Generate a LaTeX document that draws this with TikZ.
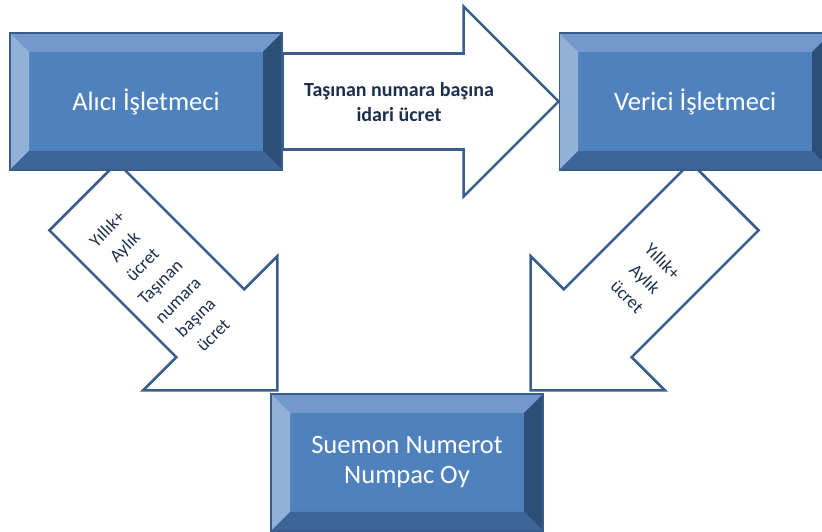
\documentclass[tikz,border=0pt]{standalone}
\usepackage{fontspec}
\setmainfont{Carlito}
\usepackage{xcolor}
\usetikzlibrary{calc,positioning,backgrounds}
\definecolor{boxface}{HTML}{4F81BD}
\definecolor{boxline}{HTML}{385D8A}
\definecolor{bevtop}{HTML}{7399CC}
\definecolor{bevleft}{HTML}{93B1D8}
\definecolor{bevright}{HTML}{2D4E77}
\definecolor{bevbottom}{HTML}{3D6598}
\definecolor{arrowline}{HTML}{3A5E8C}
\definecolor{navytext}{HTML}{1C2F4D}
\tikzstyle{bevelbox} = [draw=boxline, line width=1.2pt, fill=boxface,
    minimum width=272pt, minimum height=137pt, inner sep=0pt,
    text=white, font=\fontsize{26.5}{30}\selectfont, align=center,
    path picture={
        \coordinate (bnw) at (path picture bounding box.north west);
        \coordinate (bne) at (path picture bounding box.north east);
        \coordinate (bsw) at (path picture bounding box.south west);
        \coordinate (bse) at (path picture bounding box.south east);
        \fill[bevtop] (bnw) -- (bne) -- ($(bne)+(-19,-19)$) -- ($(bnw)+(19,-19)$) -- cycle;
        \fill[bevleft] (bnw) -- (bsw) -- ($(bsw)+(19,19)$) -- ($(bnw)+(19,-19)$) -- cycle;
        \fill[bevright] (bne) -- (bse) -- ($(bse)+(-19,19)$) -- ($(bne)+(-19,-19)$) -- cycle;
        \fill[bevbottom] (bsw) -- (bse) -- ($(bse)+(-19,19)$) -- ($(bsw)+(19,19)$) -- cycle;
    }]
\tikzstyle{feeline} = [draw=arrowline, fill=white, line width=2.6pt, line join=miter]
\tikzstyle{feetext} = [text=navytext, font=\fontsize{20}{25}\selectfont\bfseries, align=center]
\tikzstyle{sidetext} = [text=navytext, font=\fontsize{18}{25}\selectfont, align=center]
% block arrow: #1 = start of shaft, #2 = tip
\newcommand{\feearrow}[2]{%
    \coordinate (hb) at ($(#2)!95pt!(#1)$);
    \draw[feeline] ($(#1)!48pt!90:(#2)$) -- ($(hb)!48pt!90:(#2)$) -- ($(hb)!95pt!90:(#2)$)
        -- (#2) -- ($(hb)!95pt!-90:(#2)$) -- ($(hb)!48pt!-90:(#2)$) -- ($(#1)!48pt!-90:(#2)$) -- cycle;
}

\begin{document}
\begin{tikzpicture}[x=1pt, y=1pt]
    \useasboundingbox (0,0) rectangle (822,532);
    \node [bevelbox] (alici) at (146,430.5) {Alıcı İşletmeci};
    \node [bevelbox, right=276pt of alici] (verici) {Verici İşletmeci};
    \node [bevelbox] (suemon) at (407,69.5) {Suemon Numerot\\Numpac Oy};
    \coordinate (alicitip) at ([xshift=7pt,yshift=3pt]suemon.north west);
    \coordinate (vericitip) at ([xshift=-13pt,yshift=3pt]suemon.north east);
    \coordinate (alicistart) at ($(alicitip)+(-194,194)$);
    \coordinate (vericistart) at ($(vericitip)+(194,194)$);
    \begin{pgfonlayer}{background}
        \feearrow{alici.east}{verici.west}
        \feearrow{alicistart}{alicitip}
        \feearrow{vericistart}{vericitip}
    \end{pgfonlayer}
    \node [feetext] (idaritext) at (399,430) {Taşınan numara başına\\idari ücret};
    \node [sidetext, rotate=45] (alicitext) at (160,250) {Yıllık+\\Aylık\\ücret\\Taşınan\\numara\\başına\\ücret};
    \node [sidetext, rotate=-45] (vericitext) at (645,253) {Yıllık+\\Aylık\\ücret};
\end{tikzpicture}
\end{document}
